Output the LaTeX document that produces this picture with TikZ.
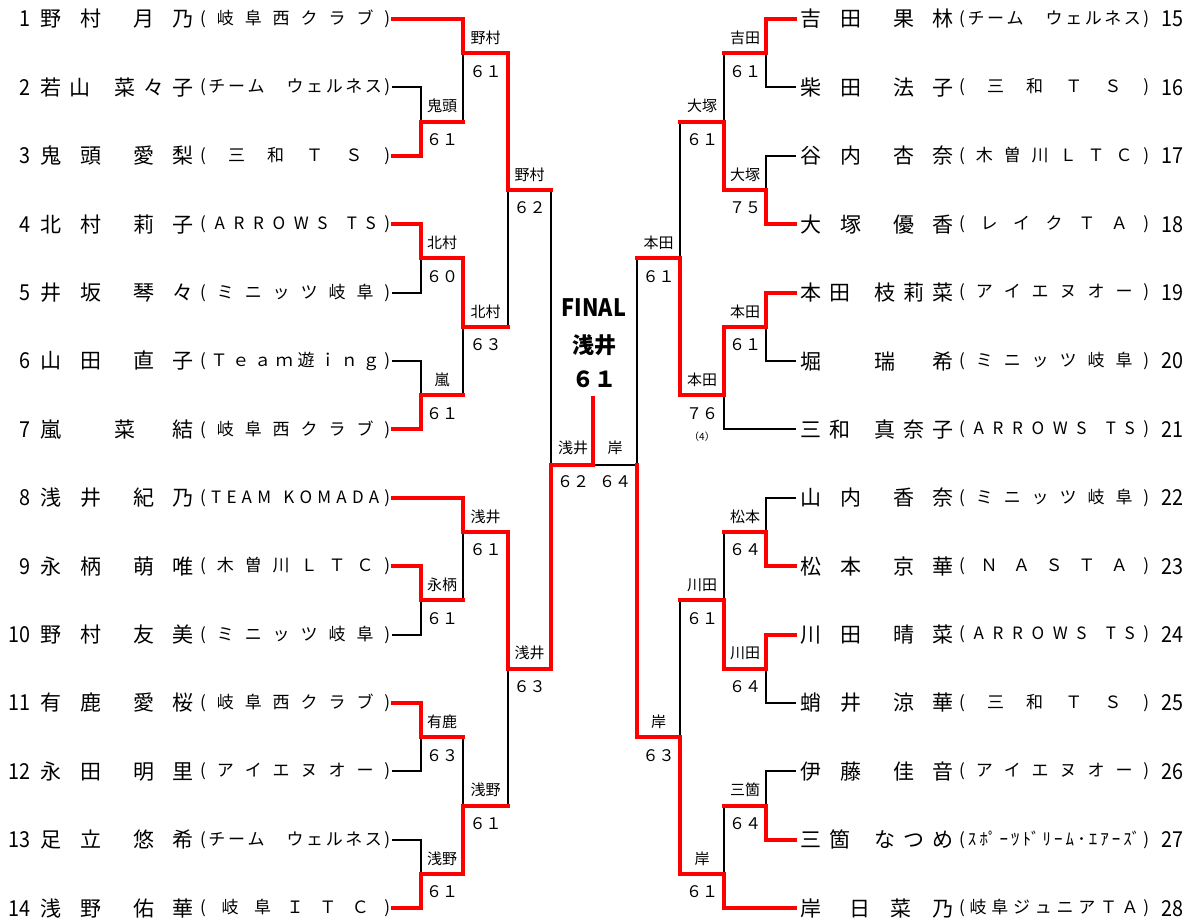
\documentclass[tikz,border=0pt]{standalone}
\usepackage{fontspec}
\setmainfont{Noto Sans CJK JP}
\usepackage{tikz}
\pgfdeclarelayer{bg}
\pgfsetlayers{bg,main}

% spread tokens evenly across a box
\makeatletter
\def\spreadtok#1{\spread@a#1\spread@end}
\def\spread@a#1#2\spread@end{#1\ifx\relax#2\relax\else\hfill\spread@a#2\spread@end\fi}
\makeatother
\def\spc{\hspace*{2pt}}

% family name box, start of given name, given name box (field 153pt)
\newcommand\pname[4]{\rlap{\makebox[#1pt][s]{\spreadtok{#2}}}\hspace*{#3pt}%
  \makebox[\dimexpr153pt-#3pt\relax][s]{\spreadtok{#4}}}
\newcommand\clubbox[1]{\makebox[190pt][s]{\spreadtok{(#1)}}}

% seed, row, name, club, column reached, line style
\newcommand\playerL[6]{%
  \pgfmathsetmacro\rowy{19+(#2-1)*68.4}
  \node[plseed, anchor=east] (s#1) at (31,\rowy) {#1};
  \node[plname] (n#1) at (40,\rowy) {#3};
  \node[plclub] (c#1) at (200,\rowy) {\clubbox{#4}};
  \draw[#6] ([xshift=3pt]c#1.east) -- (#5,\rowy);
}
\newcommand\playerR[6]{%
  \pgfmathsetmacro\rowy{19+(#2-1)*68.4}
  \node[plname] (n#1) at (800,\rowy) {#3};
  \node[plclub] (c#1) at (959,\rowy) {\clubbox{#4}};
  \node[plseed, anchor=west] (s#1) at (1161,\rowy) {#1};
  \draw[#6] ([xshift=-5pt]n#1.west) -- (#5,\rowy);
}

% id, column, next column, top, bottom, match y, winner y, winner, score
\newcommand\bout[9]{%
  \begin{pgfonlayer}{bg}\draw[lose] (#2,#4) -- (#2,#5);\end{pgfonlayer}
  \draw[win] (#2,#7) -- (#2,#6) -- (#3,#6);
  \node[wintag] (t#1) at ({(#2+#3)/2},{#6-15.5}) {#8};
  \node[wscore] (r#1) at ({(#2+#3)/2},{#6+18}) {#9};
}

\begin{document}
\begin{tikzpicture}[x=1pt, y=-1pt,
win/.style={red, line width=4pt, line cap=rect},
lose/.style={black, line width=2pt, line cap=rect},
plseed/.style={font=\fontsize{22}{22}\selectfont, inner sep=0pt, xscale=0.9},
plname/.style={font=\fontsize{21}{21}\selectfont, inner sep=0pt, anchor=west},
plclub/.style={font=\fontsize{17}{17}\selectfont, inner sep=0pt, anchor=west},
wintag/.style={font=\fontsize{15}{15}\selectfont, inner sep=0pt},
wscore/.style={font=\fontsize{16}{16}\selectfont, inner sep=0pt}]

\begin{pgfonlayer}{bg}
\fill[white] (0,0) rectangle (1193,922);
\end{pgfonlayer}
\useasboundingbox (0,0) rectangle (1193,922);

% LEFT HALF
\playerL{1}{1}{\pname{61}{野村}{93}{月乃}}{岐阜西クラブ}{463}{win}
\playerL{2}{2}{\pname{50}{若山}{74}{菜々子}}{チーム　ウェルネス}{421}{lose}
\playerL{3}{3}{\pname{61}{鬼頭}{93}{愛梨}}{三和ＴＳ}{421}{win}
\playerL{4}{4}{\pname{61}{北村}{93}{莉子}}{ARROWS\spc TS}{421}{win}
\playerL{5}{5}{\pname{61}{井坂}{93}{琴々}}{ミニッツ岐阜}{421}{lose}
\playerL{6}{6}{\pname{61}{山田}{93}{直子}}{Ｔｅａｍ遊ｉｎｇ}{421}{lose}
\playerL{7}{7}{\pname{21}{嵐}{74}{菜結}}{岐阜西クラブ}{421}{win}
\playerL{8}{8}{\pname{61}{浅井}{93}{紀乃}}{TEAM\spc KOMADA}{463}{win}
\playerL{9}{9}{\pname{61}{永柄}{93}{萌唯}}{木曽川ＬＴＣ}{421}{win}
\playerL{10}{10}{\pname{61}{野村}{93}{友美}}{ミニッツ岐阜}{421}{lose}
\playerL{11}{11}{\pname{61}{有鹿}{93}{愛桜}}{岐阜西クラブ}{421}{win}
\playerL{12}{12}{\pname{61}{永田}{93}{明里}}{アイエヌオー}{421}{lose}
\playerL{13}{13}{\pname{61}{足立}{93}{悠希}}{チーム　ウェルネス}{421}{lose}
\playerL{14}{14}{\pname{61}{浅野}{93}{佑華}}{岐阜ＩＴＣ}{421}{win}

% RIGHT HALF
\playerR{15}{1}{\pname{61}{吉田}{93}{果林}}{チーム　ウェルネス}{766}{win}
\playerR{16}{2}{\pname{61}{柴田}{93}{法子}}{三和ＴＳ}{766}{lose}
\playerR{17}{3}{\pname{61}{谷内}{93}{杏奈}}{木曽川ＬＴＣ}{766}{lose}
\playerR{18}{4}{\pname{61}{大塚}{93}{優香}}{レイクＴＡ}{766}{win}
\playerR{19}{5}{\pname{50}{本田}{74}{枝莉菜}}{アイエヌオー}{766}{win}
\playerR{20}{6}{\pname{21}{堀}{74}{瑞希}}{ミニッツ岐阜}{766}{lose}
\playerR{21}{7}{\pname{50}{三和}{74}{真奈子}}{ARROWS\spc TS}{724}{lose}
\playerR{22}{8}{\pname{61}{山内}{93}{香奈}}{ミニッツ岐阜}{766}{lose}
\playerR{23}{9}{\pname{61}{松本}{93}{京華}}{ＮＡＳＴＡ}{766}{win}
\playerR{24}{10}{\pname{61}{川田}{93}{晴菜}}{ARROWS\spc TS}{766}{win}
\playerR{25}{11}{\pname{61}{蛸井}{93}{涼華}}{三和ＴＳ}{766}{lose}
\playerR{26}{12}{\pname{61}{伊藤}{93}{佳音}}{アイエヌオー}{766}{lose}
\playerR{27}{13}{\pname{50}{三箇}{74}{なつめ}}{{ｽ}{ﾎﾟ}{ｰ}{ﾂ}{ﾄﾞ}{ﾘ}{ｰ}{ﾑ}{･}{ｴ}{ｱ}{ｰ}{ｽﾞ}}{766}{win}
\playerR{28}{14}{\pname{21}{岸}{49}{日菜乃}}{岐阜ジュニアＴＡ}{724}{win}

% left matches
\bout{1}{421}{463}{87.4}{155.8}{121.6}{155.8}{鬼頭}{６１}
\bout{2}{421}{463}{224.2}{292.6}{258.4}{224.2}{北村}{６０}
\bout{3}{421}{463}{361}{429.4}{395.2}{429.4}{嵐}{６１}
\bout{4}{421}{463}{566.2}{634.6}{600.4}{566.2}{永柄}{６１}
\bout{5}{421}{463}{703}{771.4}{737.2}{703}{有鹿}{６３}
\bout{6}{421}{463}{839.8}{908.2}{874}{908.2}{浅野}{６１}
\bout{7}{463}{508}{19}{121.6}{53.2}{19}{野村}{６１}
\bout{8}{463}{508}{258.4}{395.2}{326.8}{258.4}{北村}{６３}
\bout{9}{463}{508}{497.8}{600.4}{532}{497.8}{浅井}{６１}
\bout{10}{463}{508}{737.2}{874}{805.6}{874}{浅野}{６１}
\bout{11}{508}{551}{53.2}{326.8}{190}{53.2}{野村}{６２}
\bout{12}{508}{551}{532}{805.6}{668.8}{532}{浅井}{６３}

% right matches
\bout{13}{766}{724}{19}{87.4}{53.2}{19}{吉田}{６１}
\bout{14}{766}{724}{155.8}{224.2}{190}{224.2}{大塚}{７５}
\bout{15}{766}{724}{292.6}{361}{326.8}{292.6}{本田}{６１}
\bout{16}{766}{724}{497.8}{566.2}{532}{566.2}{松本}{６４}
\bout{17}{766}{724}{634.6}{703}{668.8}{634.6}{川田}{６４}
\bout{18}{766}{724}{771.4}{839.8}{805.6}{839.8}{三箇}{６４}
\bout{19}{724}{680}{53.2}{190}{121.6}{190}{大塚}{６１}
\bout{20}{724}{680}{326.8}{429.4}{395.2}{326.8}{本田}{７６}
\bout{21}{724}{680}{532}{668.8}{600.4}{668.8}{川田}{６１}
\bout{22}{724}{680}{805.6}{908.2}{874}{908.2}{岸}{６１}
\bout{23}{680}{637}{121.6}{395.2}{258.4}{395.2}{本田}{６１}
\bout{24}{680}{637}{600.4}{874}{737.2}{874}{岸}{６３}
\node[font=\fontsize{10}{10}\selectfont, inner sep=0pt] (tb20) at (702,437) {（4）};

% FINAL
\begin{pgfonlayer}{bg}
\draw[lose] (551,190) -- (551,668.8);
\draw[lose] (637,258.4) -- (637,737.2);
\draw[lose] (593,465) -- (637,465);
\end{pgfonlayer}
\draw[win] (551,668.8) -- (551,465) -- (593,465) -- (593,398);
\draw[win] (637,737.2) -- (637,465);
\node[wintag] (fl) at (573,448) {浅井};
\node[wscore] (fls) at (573,482) {６２};
\node[wintag] (fr) at (615,448) {岸};
\node[wscore] (frs) at (615,482) {６４};
\node[font=\bfseries\fontsize{24}{24}\selectfont, inner sep=0pt, xscale=0.9] (fin) at (594,308) {FINAL};
\node[font=\bfseries\fontsize{22}{22}\selectfont, inner sep=0pt] (champ) at (594,345) {浅井};
\node[font=\bfseries\fontsize{22}{22}\selectfont, inner sep=0pt] (champs) at (594,379) {６１};

\end{tikzpicture}
\end{document}
